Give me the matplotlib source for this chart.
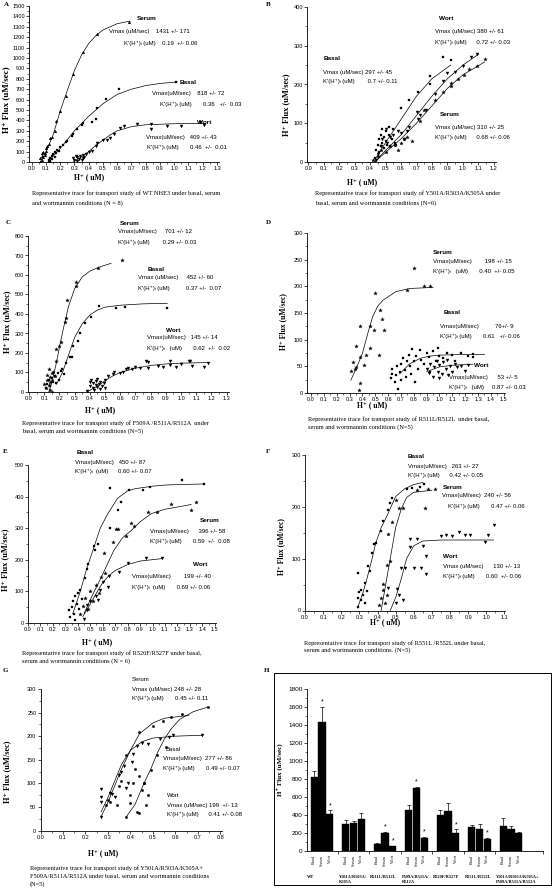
import matplotlib.pyplot as plt
from matplotlib.patches import Rectangle
from matplotlib.ticker import MultipleLocator, FormatStrFormatter

W, H = 553, 888
SANS = ['Liberation Sans', 'DejaVu Sans']
SERIF = ['Liberation Serif', 'DejaVu Serif']
plt.rcParams['font.family'] = SANS

# ---------------- panel A : WT NHE3 ----------------
a_serum_x = [0.06, 0.06, 0.07, 0.07, 0.07, 0.08, 0.08, 0.09, 0.09, 0.10, 0.10, 0.11, 0.12, 0.13,
             0.14, 0.16, 0.17, 0.20, 0.24, 0.29, 0.36, 0.46, 0.68]
a_serum_y = [0, 40, 20, 60, 90, 50, 100, 70, 85, 110, 130, 150, 170, 230, 245, 300, 390, 492, 630,
             847, 1061, 1227, 1345]
a_serum_fit_x = [0.06, 0.10, 0.15, 0.20, 0.25, 0.30, 0.35, 0.40, 0.45, 0.50, 0.60, 0.69]
a_serum_fit_y = [0, 95, 260, 490, 690, 880, 1030, 1140, 1215, 1270, 1330, 1355]
a_basal_x = [0.12, 0.12, 0.13, 0.13, 0.14, 0.14, 0.15, 0.16, 0.16, 0.17, 0.18, 0.19, 0.20, 0.22,
             0.24, 0.25, 0.28, 0.29, 0.32, 0.35, 0.36, 0.42, 0.45, 0.46, 0.52, 0.61, 1.01]
a_basal_y = [0, 20, 40, 10, 60, 30, 80, 50, 100, 90, 120, 110, 140, 160, 190, 200, 250, 265, 320,
             360, 375, 380, 418, 520, 607, 705, 772]
a_basal_fit_x = [0.12, 0.20, 0.30, 0.40, 0.50, 0.60, 0.70, 0.80, 0.90, 1.02]
a_basal_fit_y = [10, 130, 300, 440, 560, 650, 700, 735, 755, 770]
a_wort_x = [0.29, 0.30, 0.31, 0.32, 0.32, 0.33, 0.34, 0.35, 0.36, 0.36, 0.37, 0.38, 0.40, 0.42,
            0.45, 0.46, 0.50, 0.53, 0.55, 0.58, 0.62, 0.65, 0.74, 0.84, 0.84, 0.95, 1.05, 1.18, 1.21]
a_wort_y = [40, 20, 60, 10, 45, 30, 55, 20, 65, 40, 50, 80, 100, 110, 150, 180, 210, 210, 230,
            270, 330, 350, 370, 320, 370, 350, 350, 380, 360]
a_wort_fit_x = [0.29, 0.35, 0.40, 0.45, 0.50, 0.55, 0.60, 0.70, 0.80, 1.00, 1.22]
a_wort_fit_y = [0, 50, 100, 160, 210, 260, 300, 340, 358, 368, 372]

# ---------------- panel B : Y501A/R503A/K505A ----------------
b_basal_x = [0.43, 0.44, 0.45, 0.46, 0.46, 0.47, 0.47, 0.48, 0.48, 0.49, 0.49, 0.50, 0.50, 0.51,
             0.52, 0.52, 0.53, 0.54, 0.55, 0.56, 0.60, 0.65, 0.71, 0.79, 0.79, 0.87, 0.92]
b_basal_y = [10, 30, 45, 25, 60, 40, 70, 50, 85, 35, 65, 55, 80, 45, 70, 90, 40, 60, 85, 50, 140,
             160, 180, 200, 222, 270, 262]
b_basal_fit_x = [0.43, 0.50, 0.60, 0.70, 0.80, 0.92]
b_basal_fit_y = [5, 50, 110, 170, 215, 250]
b_wort_x = [0.44, 0.45, 0.47, 0.48, 0.50, 0.51, 0.53, 0.55, 0.56, 0.58, 0.60, 0.62, 0.64, 0.65,
            0.70, 0.71, 0.72, 0.76, 0.82, 0.87, 0.90, 0.95, 1.00, 1.05, 1.09]
b_wort_y = [5, 20, 40, 60, 85, 50, 65, 70, 45, 80, 75, 60, 80, 90, 130, 110, 120, 135, 175, 210,
            230, 232, 248, 272, 278]
b_wort_fit_x = [0.43, 0.50, 0.60, 0.70, 0.80, 0.90, 1.00, 1.10]
b_wort_fit_y = [0, 30, 70, 120, 170, 215, 250, 278]
b_serum_x = [0.42, 0.45, 0.47, 0.50, 0.53, 0.56, 0.58, 0.60, 0.62, 0.64, 0.67, 0.72, 0.75, 0.82,
             0.87, 0.92, 0.92, 0.97, 1.01, 1.04, 1.09, 1.14]
b_serum_y = [5, 15, 30, 25, 40, 45, 30, 50, 60, 65, 55, 105, 135, 160, 180, 195, 205, 215, 225,
             240, 248, 265]
b_serum_fit_x = [0.43, 0.50, 0.60, 0.70, 0.80, 0.90, 1.00, 1.14]
b_serum_fit_y = [0, 25, 60, 100, 145, 190, 225, 258]

# ---------------- panel C : F509A/R511A/R512A ----------------
c_serum_x = [0.10, 0.11, 0.12, 0.12, 0.13, 0.13, 0.14, 0.14, 0.15, 0.15, 0.16, 0.17, 0.18, 0.18,
             0.20, 0.21, 0.237, 0.24, 0.25, 0.31, 0.31, 0.456, 0.61, 0.14, 0.15]
c_serum_y = [40, 20, 60, 85, 34, 116, 50, 75, 95, 60, 100, 80, 160, 220, 236, 258, 361, 379, 472,
             544, 566, 634, 677, 10, 0]
c_serum_fit_x = [0.13, 0.15, 0.18, 0.20, 0.23, 0.26, 0.30, 0.35, 0.40, 0.46, 0.54]
c_serum_fit_y = [0, 50, 150, 230, 340, 440, 530, 590, 620, 640, 660]
c_basal_x = [0.11, 0.12, 0.13, 0.14, 0.15, 0.16, 0.17, 0.18, 0.19, 0.20, 0.21, 0.22, 0.23, 0.24,
             0.27, 0.28, 0.29, 0.32, 0.335, 0.37, 0.41, 0.46, 0.57, 0.63, 0.906]
c_basal_y = [20, 40, 60, 30, 70, 50, 80, 45, 95, 60, 110, 120, 90, 147, 181, 181, 236, 263, 304,
             352, 386, 441, 429, 434, 429]
c_basal_fit_x = [0.18, 0.22, 0.26, 0.30, 0.35, 0.40, 0.45, 0.50, 0.60, 0.75, 0.91]
c_basal_fit_y = [40, 100, 190, 280, 350, 395, 420, 435, 445, 452, 455]
c_wort_x = [0.38, 0.40, 0.40, 0.41, 0.42, 0.42, 0.43, 0.44, 0.44, 0.45, 0.45, 0.46, 0.47, 0.47,
            0.48, 0.49, 0.50, 0.50, 0.52, 0.55, 0.56, 0.60, 0.62, 0.64, 0.65, 0.68, 0.70, 0.73,
            0.77, 0.78, 0.78, 0.85, 0.88, 0.93, 0.93, 0.97, 1.00, 1.05, 1.06, 1.07, 1.15, 1.18]
c_wort_y = [5, 50, 30, 60, 20, 45, 10, 55, 35, 25, 65, 40, 15, 50, 30, 45, 20, 60, 80, 90, 100,
            95, 105, 120, 125, 120, 130, 125, 160, 155, 125, 135, 130, 160, 140, 130, 145, 160,
            160, 135, 130, 150]
c_wort_fit_x = [0.38, 0.45, 0.50, 0.55, 0.60, 0.70, 0.80, 0.90, 1.00, 1.18]
c_wort_fit_y = [0, 30, 58, 82, 100, 122, 136, 144, 148, 151]

# ---------------- panel D : R511L/R512L ----------------
d_serum_x = [0.31, 0.33, 0.34, 0.35, 0.35, 0.38, 0.38, 0.38, 0.41, 0.43, 0.46, 0.46, 0.49, 0.50,
             0.53, 0.54, 0.55, 0.57, 0.75, 0.80, 0.88, 0.93, 0.37]
d_serum_y = [41, 58, 45, 49, 88, 18, 68, 125, 52, 72, 85, 125, 118, 188, 71, 155, 138, 119, 193,
             235, 200, 200, 5]
d_serum_fit_x = [0.31, 0.35, 0.40, 0.44, 0.48, 0.52, 0.56, 0.66, 0.77, 0.95]
d_serum_fit_y = [24, 45, 74, 110, 143, 163, 174, 190, 196, 198]
d_basal_x = [0.62, 0.63, 0.63, 0.65, 0.66, 0.67, 0.68, 0.69, 0.70, 0.70, 0.72, 0.73, 0.74, 0.75,
             0.76, 0.77, 0.78, 0.79, 0.80, 0.81, 0.82, 0.83, 0.85, 0.86, 0.88, 0.90, 0.92, 0.93,
             0.95, 0.97, 0.99, 1.00, 1.03, 1.06, 1.10, 1.12, 1.17, 1.22, 1.26, 1.26]
d_basal_y = [28, 35, 45, 20, 33, 50, 8, 40, 55, 25, 65, 43, 30, 60, 72, 50, 35, 82, 60, 20, 70, 45,
             80, 62, 55, 75, 68, 40, 78, 60, 85, 70, 65, 75, 72, 60, 75, 70, 74, 68]
d_basal_fit_x = [0.69, 0.77, 0.85, 0.92, 1.00, 1.15, 1.35]
d_basal_fit_y = [36, 55, 65, 69, 71, 72, 72]
d_wort_x = [0.90, 0.92, 0.93, 0.95, 0.96, 0.98, 0.99, 1.00, 1.02, 1.03, 1.05, 1.06, 1.08, 1.10,
            1.12, 1.14, 1.17, 1.20, 1.22, 1.00, 1.07]
d_wort_y = [45, 38, 55, 30, 48, 60, 40, 52, 35, 58, 45, 62, 50, 40, 55, 48, 50, 42, 52, 28, 33]
d_wort_fit_x = [0.90, 1.00, 1.10, 1.26]
d_wort_fit_y = [40, 49, 52, 54]

# ---------------- panel E : R520F/R527F ----------------
e_basal_x = [0.33, 0.34, 0.35, 0.36, 0.37, 0.38, 0.38, 0.39, 0.40, 0.41, 0.42, 0.43, 0.46, 0.47,
             0.48, 0.53, 0.54, 0.56, 0.66, 0.72, 0.75, 0.66, 0.81, 0.92, 0.98, 1.24, 1.41]
e_basal_y = [40, 20, 52, 69, 30, 85, 10, 60, 95, 45, 105, 75, 141, 172, 188, 245, 230, 251, 301,
             359, 384, 427, 422, 421, 429, 452, 440]
e_basal_fit_x = [0.36, 0.42, 0.47, 0.53, 0.58, 0.64, 0.72, 0.80, 0.86, 1.00, 1.12, 1.41]
e_basal_fit_y = [30, 100, 170, 240, 300, 345, 395, 418, 425, 433, 437, 440]
e_serum_x = [0.42, 0.44, 0.46, 0.48, 0.50, 0.52, 0.55, 0.57, 0.59, 0.62, 0.61, 0.68, 0.71, 0.72,
             0.79, 0.83, 0.85, 0.96, 1.04, 1.15, 1.31, 1.35]
e_serum_y = [30, 55, 80, 45, 100, 70, 120, 95, 145, 158, 221, 255, 299, 299, 276, 318, 306, 350,
             352, 377, 358, 382]
e_serum_fit_x = [0.45, 0.52, 0.59, 0.69, 0.76, 0.83, 0.90, 0.99, 1.10, 1.20, 1.31]
e_serum_fit_y = [30, 90, 146, 230, 270, 293, 320, 346, 360, 367, 375]
e_wort_x = [0.45, 0.47, 0.47, 0.50, 0.55, 0.56, 0.58, 0.60, 0.64, 0.65, 0.73, 0.80, 0.95, 1.08]
e_wort_y = [12, 42, 57, 70, 84, 74, 104, 130, 114, 150, 162, 189, 205, 205]
e_wort_fit_x = [0.44, 0.50, 0.55, 0.60, 0.65, 0.70, 0.80, 0.90, 1.08]
e_wort_fit_y = [20, 60, 95, 128, 150, 166, 185, 196, 204]

# ---------------- panel F : R551L/R552L ----------------
f_basal_x = [0.29, 0.29, 0.29, 0.30, 0.31, 0.31, 0.32, 0.33, 0.33, 0.34, 0.35, 0.36, 0.37, 0.38,
             0.39, 0.42, 0.43, 0.46, 0.47, 0.48, 0.56, 0.59, 0.633, 0.655]
f_basal_y = [7, 25, 72, 35, 20, 40, 30, 53, 15, 38, 85, 77, 110, 128, 130, 154, 172, 193, 207, 217,
             235, 236, 239, 244]
f_basal_fit_x = [0.29, 0.32, 0.34, 0.37, 0.39, 0.42, 0.45, 0.50, 0.55, 0.60, 0.65]
f_basal_fit_y = [5, 35, 59, 100, 130, 160, 181, 220, 235, 243, 247]
f_serum_x = [0.41, 0.42, 0.43, 0.43, 0.44, 0.45, 0.45, 0.46, 0.47, 0.48, 0.50, 0.52, 0.54, 0.62,
             0.66, 0.68, 0.716]
f_serum_y = [10, 25, 40, 51, 15, 30, 88, 147, 96, 170, 214, 198, 198, 232, 198, 235, 235]
f_serum_fit_x = [0.42, 0.44, 0.47, 0.50, 0.53, 0.56, 0.60, 0.70]
f_serum_fit_y = [0, 40, 100, 160, 195, 218, 228, 232]
f_wort_x = [0.46, 0.50, 0.51, 0.52, 0.53, 0.54, 0.55, 0.58, 0.58, 0.60, 0.615, 0.64, 0.65, 0.67,
            0.67, 0.75, 0.78, 0.81, 0.85, 0.88, 0.91, 0.99, 1.01, 1.04]
f_wort_y = [43, 15, 42, 30, 82, 20, 82, 122, 138, 82, 138, 82, 125, 70, 106, 143, 145, 143, 151,
            145, 145, 132, 145, 165]
f_wort_fit_x = [0.47, 0.50, 0.53, 0.56, 0.60, 0.65, 0.75, 1.04]
f_wort_fit_y = [0, 25, 60, 100, 125, 134, 136, 136]

# ---------------- panel G : Y501A/R503A/K505A + F509A/R511A/R512A ----------------
g_serum_x = [0.38, 0.40, 0.41, 0.43, 0.44, 0.45, 0.46, 0.47, 0.48, 0.49, 0.52, 0.56, 0.44, 0.50,
             0.546, 0.58, 0.63, 0.746]
g_serum_y = [28, 58, 100, 40, 38, 85, 100, 55, 75, 129, 160, 176, 208, 222, 232, 241, 248, 262]
g_basal_x = [0.27, 0.27, 0.27, 0.27, 0.31, 0.32, 0.33, 0.35, 0.36, 0.37, 0.38, 0.39, 0.405, 0.41,
             0.43, 0.45, 0.48, 0.53, 0.57, 0.59, 0.72]
g_basal_y = [88, 72, 60, 28, 80, 78, 70, 118, 125, 136, 90, 100, 145, 163, 180, 185, 183, 195, 199,
             202, 203]
g_wort_x = [0.29, 0.30, 0.31, 0.34, 0.35, 0.36, 0.38, 0.40, 0.42, 0.44, 0.46]
g_wort_y = [55, 65, 60, 55, 95, 105, 160, 75, 130, 115, 100]
g_fit1_x = [0.38, 0.42, 0.46, 0.49, 0.52, 0.55, 0.58, 0.62, 0.68, 0.746]
g_fit1_y = [28, 55, 100, 130, 165, 193, 215, 236, 252, 262]
g_fit2_x = [0.27, 0.30, 0.33, 0.36, 0.40, 0.44, 0.50, 0.55, 0.66]
g_fit2_y = [30, 60, 95, 130, 170, 205, 228, 238, 244]
g_fit3_x = [0.27, 0.30, 0.33, 0.36, 0.40, 0.45, 0.50, 0.60, 0.72]
g_fit3_y = [40, 70, 105, 140, 170, 188, 196, 200, 202]

# ---------------- panel H : summary bars ----------------
h_groups = ['WT', 'Y501A/R503A/\nK505A', 'R511L/R512L', 'F509A/R511A/\nR512A', 'R520F/R527F',
            'R551L/R552L', 'Y501A/R503A/K505A+\nF509A/R511A/R512A']
h_conditions = ['Basal', 'Serum', 'Wort']
h_basal = [818, 297, 76, 452, 396, 263, 277]
h_basal_err = [72, 45, 9, 60, 62, 27, 86]
h_serum = [1431, 310, 198, 701, 450, 240, 248]
h_serum_err = [171, 25, 15, 12, 87, 56, 28]
h_wort = [409, 360, 53, 145, 199, 130, 199]
h_wort_err = [43, 61, 5, 14, 40, 13, 13]
h_serum_sig = [True, False, True, True, False, False, False]
h_wort_sig = [True, False, True, True, True, True, False]

fig = plt.figure(figsize=(W / 100, H / 100), dpi=100)


def add_ax(x0, y0, x1, y1):
    # pixel box (top-left origin) -> figure axes
    return fig.add_axes([x0 / W, 1 - y1 / H, (x1 - x0) / W, (y1 - y0) / H])


def ftext(x, y, s, **kw):
    kw.setdefault('va', 'center')
    fig.text(x / W, 1 - y / H, s, **kw)


def style_axes(ax, xlim, ylim, xstep, ystep):
    ax.set_xlim(*xlim)
    ax.set_ylim(*ylim)
    ax.patch.set_alpha(0)
    for s in ('top', 'right'):
        ax.spines[s].set_visible(False)
    for s in ('left', 'bottom'):
        ax.spines[s].set_linewidth(0.6)
    ax.xaxis.set_major_locator(MultipleLocator(xstep))
    ax.xaxis.set_minor_locator(MultipleLocator(xstep / 2))
    ax.yaxis.set_major_locator(MultipleLocator(ystep))
    ax.yaxis.set_minor_locator(MultipleLocator(ystep / 2))
    ax.xaxis.set_major_formatter(FormatStrFormatter('%.1f'))
    ax.tick_params(which='major', direction='out', length=2, width=0.5, labelsize=4, pad=1)
    ax.tick_params(which='minor', direction='out', length=1.2, width=0.4)


def draw_series(ax, x, y, marker, ms):
    ax.plot(x, y, ls='none', marker=marker, ms=ms, color='k', mec='k', mew=0.2)


def draw_fit(ax, x, y):
    ax.plot(x, y, '-', color='k', lw=0.5)


def annotate(items, size=4.3):
    for x, y, s, bold in items:
        ftext(x, y, s, fontsize=size + (0.3 if bold else 0),
              fontweight='bold' if bold else 'normal', family=SANS)


def axis_labels(ylab_xy, xlab_xy, ysize=6, xsize=5.5):
    ftext(ylab_xy[0], ylab_xy[1], 'H⁺ Flux (uM/sec)', rotation=90, ha='center',
          fontsize=ysize, fontweight='bold', family=SERIF)
    ftext(xlab_xy[0], xlab_xy[1], 'H⁺ ( uM)', ha='center', fontsize=xsize,
          fontweight='bold', family=SERIF)


def caption(x, y, lines, step):
    for i, line in enumerate(lines):
        ftext(x, y + i * step, line, fontsize=4.6, family=SERIF)


KH = "K'(H⁺)ᵢ"

# ---- A
ax = add_ax(29, 6, 219, 162)
style_axes(ax, (-0.019, 1.314), (0, 1500), 0.1, 100)
draw_series(ax, a_serum_x, a_serum_y, '^', 2.0)
draw_series(ax, a_basal_x, a_basal_y, 's', 1.8)
draw_series(ax, a_wort_x, a_wort_y, 'v', 2.2)
for fx, fy in [(a_serum_fit_x, a_serum_fit_y), (a_basal_fit_x, a_basal_fit_y),
               (a_wort_fit_x, a_wort_fit_y)]:
    draw_fit(ax, fx, fy)
annotate([(137, 19, 'Serum', True),
          (109, 32, 'Vmax (uM/sec)    1431 +/- 171', False),
          (124, 43, KH + ' (uM)    0.19  +/- 0.06', False),
          (180, 82, 'Basal', True),
          (152, 93, 'Vmax(uM/sec)    818 +/- 72', False),
          (160, 104, KH + ' (uM)       0.36   +/-  0.03', False),
          (197, 122, 'Wort', True),
          (146, 137, 'Vmax(uM/sec)   409 +/- 43', False),
          (147, 147, KH + ' (uM)       0.46  +/-  0.01', False)])
axis_labels((7, 100), (89, 177), ysize=6.5)
caption(32, 193, ['Representative trace for transport study of WT NHE3 under basal, serum',
                  'and wortmannin conditions (N = 8)'], 10)

# ---- B
ax = add_ax(307, 7, 496, 162)
style_axes(ax, (-0.008, 1.214), (0, 400), 0.1, 100)
draw_series(ax, b_basal_x, b_basal_y, 's', 1.8)
draw_series(ax, b_wort_x, b_wort_y, 'v', 2.2)
draw_series(ax, b_serum_x, b_serum_y, '*', 2.8)
for fx, fy in [(b_basal_fit_x, b_basal_fit_y), (b_wort_fit_x, b_wort_fit_y),
               (b_serum_fit_x, b_serum_fit_y)]:
    draw_fit(ax, fx, fy)
annotate([(439, 19, 'Wort', True),
          (435, 32, 'Vmax (uM/sec) 380 +/- 61', False),
          (435, 42, KH + ' (uM)      0.72 +/- 0.03', False),
          (324, 59, 'Basal', True),
          (323, 72, 'Vmax (uM/sec) 297 +/- 45', False),
          (323, 81, KH + ' (uM)        0.7 +/- 0.11', False),
          (440, 115, 'Serum', True),
          (435, 127, 'Vmax (uM/sec) 310 +/- 25', False),
          (435, 137, KH + ' (uM)      0.68 +/- 0.06', False)])
axis_labels((286, 105), (362, 182), ysize=6)
caption(315, 193, ['Representative trace for transport study of Y501A/R503A/K505A under',
                   'basal, serum and wortmannin conditions (N=6)'], 10)

# ---- C
ax = add_ax(28, 236, 229, 392)
style_axes(ax, (-0.007, 1.316), (0, 800), 0.1, 100)
draw_series(ax, c_serum_x, c_serum_y, '*', 2.8)
draw_series(ax, c_basal_x, c_basal_y, 's', 1.8)
draw_series(ax, c_wort_x, c_wort_y, 'v', 2.2)
for fx, fy in [(c_serum_fit_x, c_serum_fit_y), (c_basal_fit_x, c_basal_fit_y),
               (c_wort_fit_x, c_wort_fit_y)]:
    draw_fit(ax, fx, fy)
annotate([(120, 223, 'Serum', True),
          (118, 232, 'Vmax(uM/sec)     701 +/- 12', False),
          (118, 242, KH + ' (uM)        0.29 +/- 0.03', False),
          (148, 269, 'Basal', True),
          (138, 278, 'Vmax (uM/sec)     452 +/- 60', False),
          (138, 288, KH + ' (uM)          0.37 +/-  0.07', False),
          (166, 330, 'Wort', True),
          (147, 338, 'Vmax(uM/sec)   145 +/- 14', False),
          (147, 348, KH + '   (uM)       0.62  +/-  0.02', False)])
axis_labels((7, 322), (100, 410), ysize=6)
caption(22, 423, ['Representative trace for transport study of F509A /R511A/R512A  under',
                  'basal, serum and wortmannin conditions (N=5)'], 8)

# ---- D
ax = add_ax(307, 233, 505, 393)
style_axes(ax, (-0.031, 1.51), (0, 300), 0.1, 50)
draw_series(ax, d_serum_x, d_serum_y, '*', 2.8)
draw_series(ax, d_basal_x, d_basal_y, 's', 1.8)
draw_series(ax, d_wort_x, d_wort_y, 'v', 2.2)
for fx, fy in [(d_serum_fit_x, d_serum_fit_y), (d_basal_fit_x, d_basal_fit_y),
               (d_wort_fit_x, d_wort_fit_y)]:
    draw_fit(ax, fx, fy)
annotate([(433, 252, 'Serum', True),
          (433, 262, 'Vmax(uM/sec)        198 +/- 15', False),
          (433, 271, KH + '   (uM)       0.40  +/- 0.05', False),
          (444, 313, 'Basal', True),
          (440, 326, 'Vmax(uM/sec)          76+/- 9', False),
          (440, 336, KH + ' (uM)       0.61   +/- 0.06', False),
          (474, 365, 'Wort', True),
          (449, 377, 'Vmax(uM/sec)      53 +/- 5', False),
          (449, 387, KH + '   (uM)     0.87 +/- 0.03', False)])
axis_labels((283, 322), (372, 405), ysize=5.5)
caption(308, 419, ['Representative trace for transport study of R511L/R512L  under basal,',
                   'serum and wortmannin conditions (N=5)'], 8)

# ---- E
ax = add_ax(28, 465, 216, 623)
style_axes(ax, (0, 1.51), (0, 500), 0.1, 100)
draw_series(ax, e_basal_x, e_basal_y, 's', 1.8)
draw_series(ax, e_serum_x, e_serum_y, '*', 2.8)
draw_series(ax, e_wort_x, e_wort_y, 'v', 2.2)
for fx, fy in [(e_basal_fit_x, e_basal_fit_y), (e_serum_fit_x, e_serum_fit_y),
               (e_wort_fit_x, e_wort_fit_y)]:
    draw_fit(ax, fx, fy)
annotate([(77, 452, 'Basal', True),
          (75, 462, 'Vmax(uM/sec)   450 +/- 87', False),
          (75, 471, KH + '  (uM)      0.60 +/- 0.07', False),
          (200, 520, 'Serum', True),
          (150, 531, 'Vmax(uM/sec)      396 +/- 58', False),
          (150, 541, KH + ' (uM)       0.59  +/-  0.08', False),
          (193, 564, 'Wort', True),
          (132, 576, 'Vmax(uM/sec)        199 +/- 40', False),
          (132, 587, KH + '  (uM)       0.69 +/- 0.06', False)])
axis_labels((5, 560), (97, 642), ysize=6)
caption(22, 653, ['Representative trace for transport study of R520F/R527F under basal,',
                  'serum and wortmannin conditions (N = 6)'], 8)

# ---- F
ax = add_ax(305, 455, 505, 610.5)
style_axes(ax, (0, 1.103), (0, 300), 0.1, 100)
draw_series(ax, f_basal_x, f_basal_y, 's', 1.8)
draw_series(ax, f_serum_x, f_serum_y, '*', 2.8)
draw_series(ax, f_wort_x, f_wort_y, 'v', 2.2)
for fx, fy in [(f_basal_fit_x, f_basal_fit_y), (f_serum_fit_x, f_serum_fit_y),
               (f_wort_fit_x, f_wort_fit_y)]:
    draw_fit(ax, fx, fy)
annotate([(408, 456, 'Basal', True),
          (408, 466, 'Vmax(uM/sec)   263 +/- 27', False),
          (408, 475, KH + ' (uM)      0.42 +/- 0.05', False),
          (443, 487, 'Serum', True),
          (442, 496, 'Vmax(uM/sec)  240 +/- 56', False),
          (448, 506, KH + ' (uM)       0.47 +/- 0.06', False),
          (443, 556, 'Wort', True),
          (443, 566, 'Vmax (uM/sec)      130 +/- 13', False),
          (443, 576, KH + ' (uM)       0.60  +/- 0.06', False)])
axis_labels((281, 547), (385, 622), ysize=5.5)
caption(304, 643, ['Representative trace for transport study of R551L /R552L under basal,',
                   'serum and wortmannin conditions. (N=5)'], 7.5)

# ---- G
ax = add_ax(40.5, 689, 222, 830.5)
style_axes(ax, (0, 0.807), (0, 300), 0.1, 50)
draw_series(ax, g_serum_x, g_serum_y, 'o', 1.8)
draw_series(ax, g_basal_x, g_basal_y, 'v', 2.2)
draw_series(ax, g_wort_x, g_wort_y, 'o', 1.8)
for fx, fy in [(g_fit1_x, g_fit1_y), (g_fit2_x, g_fit2_y), (g_fit3_x, g_fit3_y)]:
    draw_fit(ax, fx, fy)
annotate([(132, 679, 'Serum', False),
          (132, 689, 'Vmax (uM/sec) 248 +/- 28', False),
          (132, 698, KH + ' (uM)       0.45 +/- 0.11', False),
          (165, 749, 'Basal', False),
          (163, 758, 'Vmax(uM/sec)  277 +/- 86', False),
          (163, 768, KH + ' (uM)       0.49 +/- 0.07', False),
          (167, 795, 'Wort', False),
          (167, 805, 'Vmax (uM/sec) 199  +/- 13', False),
          (167, 814, KH + ' (uM)      0.41 +/- 0.08', False)])
axis_labels((7, 772), (103, 853), ysize=6)
caption(30, 868, ['Representative trace for transport study of Y501A/R503A/K505A+',
                  'F509A/R511A/R512A under basal, serum and wortmannin conditions',
                  '(N=5)'], 8)

# ---- H
ax = add_ax(307, 689, 543, 851)
ax.set_xlim(-0.905, 29.06)
ax.set_ylim(0, 1800)
ax.patch.set_alpha(0)
for s in ('top', 'right'):
    ax.spines[s].set_visible(False)
for s in ('left', 'bottom'):
    ax.spines[s].set_linewidth(0.6)
ax.yaxis.set_major_locator(MultipleLocator(200))
ax.yaxis.set_minor_locator(MultipleLocator(100))
ax.set_xticks([3, 7, 11, 15, 19, 23, 29])
ax.set_xticklabels([])
ax.tick_params(which='major', direction='out', length=2, width=0.5, labelsize=4.6, pad=1)
ax.tick_params(which='minor', direction='out', length=1.2, width=0.4)

for i in range(len(h_groups)):
    base = 4 * i
    vals = [h_basal[i], h_serum[i], h_wort[i]]
    errs = [h_basal_err[i], h_serum_err[i], h_wort_err[i]]
    sig = [False, h_serum_sig[i], h_wort_sig[i]]
    xs = [base, base + 1, base + 2]
    ax.bar(xs, vals, width=0.9, color='k', edgecolor='k', linewidth=0.3)
    ax.errorbar(xs, vals, yerr=[[0, 0, 0], errs], fmt='none', ecolor='k',
                elinewidth=0.5, capsize=1.3, capthick=0.5)
    for xb, v, e, s in zip(xs, vals, errs, sig):
        if s:
            ax.text(xb, v + e + 15, '*', ha='center', va='bottom', fontsize=5)
    for xb, cond in zip(xs, h_conditions):
        ax.text(xb, -0.025, cond, transform=ax.get_xaxis_transform(), rotation=90,
                ha='center', va='top', fontsize=3, family=SERIF)
    ax.text(base - 0.9, -0.15, h_groups[i], transform=ax.get_xaxis_transform(),
            ha='left', va='top', fontsize=3.2, fontweight='bold', family=SERIF,
            linespacing=1.1)

ftext(280, 770, 'H⁺ Flux (uM/sec)', rotation=90, ha='center', fontsize=5,
      fontweight='bold', family=SERIF)
fig.patches.append(Rectangle((274 / W, 1 - 885 / H), (551 - 274) / W, (885 - 673) / H,
                             transform=fig.transFigure, fill=False, lw=0.7, ec='k'))

# panel letters
for letter, (x, y) in zip('ABCDEFGH', [(6, 5), (268, 5), (8, 222), (268, 222), (5, 451),
                                       (268, 451), (5, 670), (267, 670)]):
    ftext(x, y, letter, fontsize=5, fontweight='bold', family=SERIF, ha='center')

fig.savefig('out.png', dpi=100)
